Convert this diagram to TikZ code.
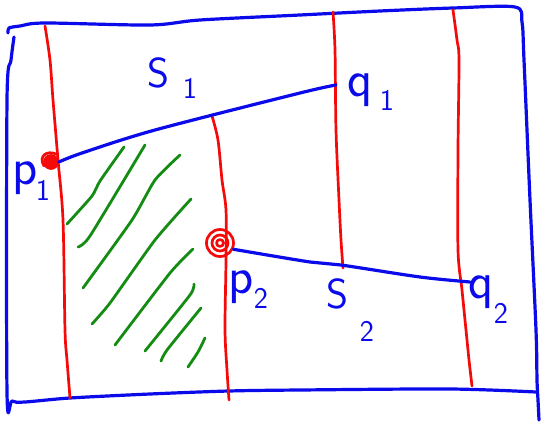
\documentclass[tikz,border=0pt]{standalone}
\usetikzlibrary{calc}
\definecolor{penblue}{RGB}{10,10,235}
\definecolor{penred}{RGB}{245,10,10}
\definecolor{pengreen}{RGB}{20,140,20}
\begin{document}
\begin{tikzpicture}[x=1pt,y=-1pt,line cap=round,line join=round,
  border/.style={draw=penblue,line width=3.2pt},
  sweep/.style={draw=penred,line width=2.7pt},
  seg/.style={draw=penblue,line width=3.2pt},
  hatch/.style={draw=pengreen,line width=2.8pt},
  endpt/.style={circle,draw=penred,line width=2.7pt,inner sep=0pt},
  lbl/.style={text=penblue,font=\fontsize{42}{42}\selectfont\sffamily,inner sep=0pt},
  ltr/.style={text=penblue,font=\fontsize{52}{52}\selectfont\sffamily,inner sep=0pt},
  idx/.style={text=penblue,font=\fontsize{30}{30}\selectfont\sffamily,inner sep=0pt}]
\useasboundingbox (0,0) rectangle (546,425);
\fill[white] (0,0) rectangle (546,425);

% outer frame
\draw[border] plot[smooth,tension=0.5] coordinates {(8,33) (9,28) (20,26) (45,23) (150,25) (200,20) (300,15) (380,11) (453,8) (515,7) (522,22) (524,60) (530,200) (536,330) (537,380) (538,400) (539,420)};
\draw[border] plot[smooth,tension=0.5] coordinates {(14,37) (11,60) (7,100) (7,392) (12,401) (25,402) (70,398) (150,394) (229,391) (300,390) (450,389) (536,392)};

% red sweep lines
\draw[sweep] plot[smooth] coordinates {(45,26) (50,60) (53,100) (58,160) (63,220) (65,330) (67,360) (70,398)};
\draw[sweep] plot[smooth] coordinates {(212,116) (218,140) (222,180) (226,210) (226,260) (225,330) (227,370) (229,400)};
\draw[sweep] plot[smooth] coordinates {(333,12) (335,50) (336,130) (339,200) (341,240) (343,268)};
\draw[sweep] plot[smooth] coordinates {(453,10) (457,40) (459,60) (458,150) (458,250) (462,290) (466,330) (469,360) (472,386)};

% endpoints
\node[endpt,fill=penred,minimum size=13pt] (p1) at (51,162) {};
\draw[sweep] (44,166) .. controls (38,156) and (47,150) .. (56,154);
\node[endpt,minimum size=27pt] (p2) at (220,243) {};
\draw[sweep] (p2) circle (8);
\draw[sweep] (p2) circle (3.5);
\coordinate (q1) at (336,85);
\coordinate (q2) at (470,282);

% segments
\draw[seg] plot[smooth] coordinates {(p1.east) (82,153) (155,130) (300,93) (q1)};
\draw[seg] plot[smooth] coordinates {(p2.-25) (310,262) (341,265) (420,277) (q2)};

% hatching
\draw[hatch] plot[smooth,tension=0.35] coordinates {(67,224) (92,196) (100,181) (124,147)};
\draw[hatch] plot[smooth,tension=0.35] coordinates {(78,247) (90,236) (145,145)};
\draw[hatch] plot[smooth,tension=0.35] coordinates {(83,288) (132,220) (155,180) (180,155)};
\draw[hatch] plot[smooth,tension=0.35] coordinates {(92,324) (110,303) (155,240) (191,199)};
\draw[hatch] plot[smooth,tension=0.35] coordinates {(115,345) (170,273) (193,249)};
\draw[hatch] plot[smooth,tension=0.35] coordinates {(145,351) (190,295) (194,284)};
\draw[hatch] plot[smooth,tension=0.35] coordinates {(161,361) (167,350) (201,308)};
\draw[hatch] plot[smooth,tension=0.35] coordinates {(188,367) (198,352) (205,338)};

% labels
\node[lbl] (s1) at (158,73) {S};
\node[idx] (s1i) at (190,88) {1};
\node[ltr] (p1l) at (25,178) {p};
\node[idx] (p1i) at (43,190) {1};
\node[ltr] (q1l) at (360,90) {q};
\node[idx] (q1i) at (387,100) {1};
\node[ltr] (p2l) at (241,287) {p};
\node[idx] (p2i) at (261,298) {2};
\node[ltr] (q2l) at (481,292) {q};
\node[idx] (q2i) at (501,313) {2};
\node[lbl] (s2) at (337,294) {S};
\node[idx] (s2i) at (367,331) {2};
\end{tikzpicture}
\end{document}
